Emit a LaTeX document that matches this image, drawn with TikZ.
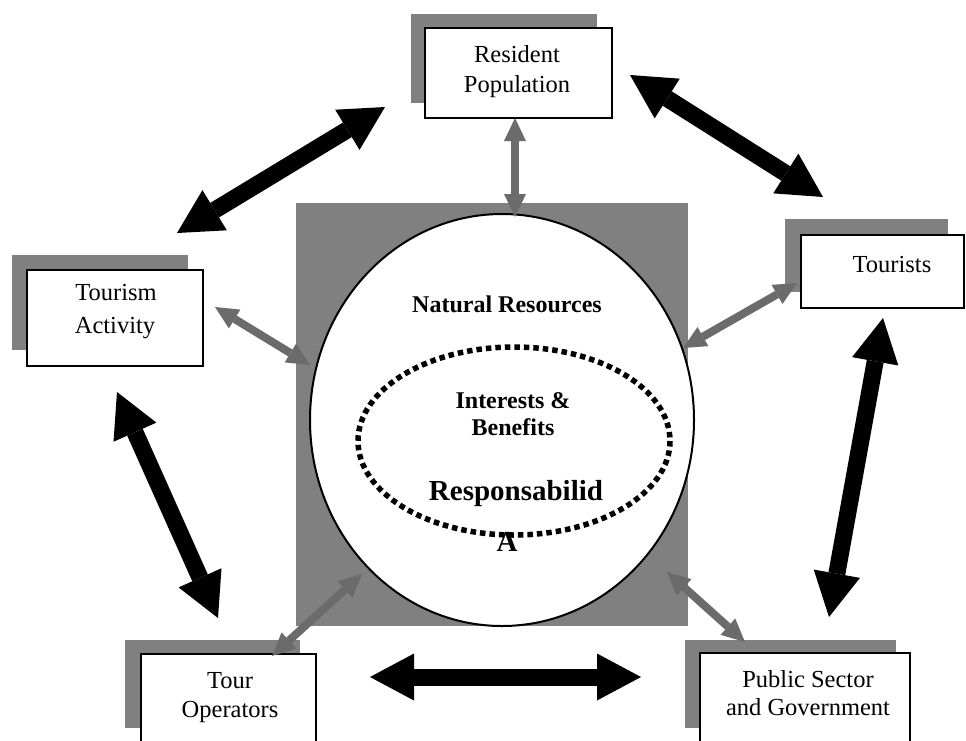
\documentclass[tikz,border=0pt]{standalone}
\usepackage{fontspec}
\setmainfont{Liberation Serif}
\usetikzlibrary{arrows.meta}
\definecolor{shade}{HTML}{808080}
\definecolor{agray}{HTML}{6B6B6B}
\begin{document}
\begin{tikzpicture}[x=1pt,y=-1pt,
  shadowbox/.style={rectangle, fill=shade, inner sep=0pt, outer sep=0pt},
  box/.style={rectangle, draw=black, line width=2.5pt, fill=white, inner sep=0pt, outer sep=0pt},
  lbl/.style={font=\fontsize{24.5}{28}\selectfont, anchor=base, inner sep=0pt},
  blbl/.style={font=\fontsize{24}{28}\selectfont\bfseries, anchor=base, inner sep=0pt},
  hlbl/.style={font=\fontsize{29}{34}\selectfont\bfseries, anchor=base, inner sep=0pt},
  bigarrow/.style={line width=17pt, draw=black,
    {Triangle[length=44pt,width=47pt,line width=0pt]}-{Triangle[length=44pt,width=47pt,line width=0pt]}},
  smallarrow/.style={line width=8pt, draw=agray,
    {Triangle[length=23pt,width=22pt,line width=0pt]}-{Triangle[length=23pt,width=22pt,line width=0pt]}}
]
\useasboundingbox (0,0) rectangle (966,740);

% shadows
\node[shadowbox, minimum width=186pt, minimum height=89pt] (resS) at (504,58.5) {};
\node[shadowbox, minimum width=176pt, minimum height=95pt] (actS) at (100,302.5) {};
\node[shadowbox, minimum width=163pt, minimum height=73pt] (touS) at (866.5,255.5) {};
\node[shadowbox, minimum width=175pt, minimum height=88pt] (opS) at (212.5,684) {};
\node[shadowbox, minimum width=211pt, minimum height=88pt] (pubS) at (790.5,684) {};

% central square, circle, ellipse
\node[shadowbox, minimum width=392pt, minimum height=423pt] (sq) at (492,414.5) {};
\draw[line width=2pt, fill=white] (502,420) ellipse [x radius=192, y radius=206];
\coordinate (nat) at (502,420);

\node[hlbl] (resp2) at (507,551) {A};
\draw[line width=5.5pt, dash pattern=on 5.5pt off 4pt] (514,441) ellipse [x radius=156, y radius=94];
\coordinate (inner) at (514,441);

\node[blbl] (natl) at (507,312) {Natural Resources};
\node[blbl] (int1) at (513,408) {Interests \&};
\node[blbl] (int2) at (513,435) {Benefits};
\node[hlbl] (resp1) at (516,500) {Responsabilid};

% boxes
\node[box, minimum width=187pt, minimum height=90pt] (res) at (518.5,73) {};
\node[box, minimum width=176pt, minimum height=96pt] (act) at (115,318) {};
\node[box, minimum width=163pt, minimum height=73pt] (tou) at (882.5,271.5) {};
\node[box, minimum width=175pt, minimum height=96pt] (op) at (228.5,702) {};
\node[box, minimum width=210pt, minimum height=97pt] (pub) at (805,701.5) {};

\node[lbl] (res1) at (517,62) {Resident};
\node[lbl] (res2) at (517,92) {Population};
\node[lbl] (act1) at (116,300) {Tourism};
\node[lbl] (act2) at (115,333) {Activity};
\node[lbl] (tou1) at (892,272) {Tourists};
\node[lbl] (op1) at (230,688) {Tour};
\node[lbl] (op2) at (230,717) {Operators};
\node[lbl] (pub1) at (808,687) {Public Sector};
\node[lbl] (pub2) at (808,715) {and Government};

% arrow end points
\coordinate (b1a) at (177,233); \coordinate (b1b) at (385,107);
\coordinate (b2a) at (630,75);  \coordinate (b2b) at (823,197);
\coordinate (b3a) at (117,392); \coordinate (b3b) at (218,618);
\coordinate (b4a) at (370,677); \coordinate (b4b) at (641,677);
\coordinate (b5a) at (883,318); \coordinate (b5b) at (829,617);
\coordinate (g1a) at (515,118); \coordinate (g1b) at (515,217);
\coordinate (g2a) at (215,307); \coordinate (g2b) at (310,365);
\coordinate (g3a) at (683,348); \coordinate (g3b) at (797,283);
\coordinate (g4a) at (272,656); \coordinate (g4b) at (362,574);
\coordinate (g5a) at (667,572); \coordinate (g5b) at (745,642);

\draw[bigarrow] (b1a) -- (b1b);
\draw[bigarrow] (b2a) -- (b2b);
\draw[bigarrow] (b3a) -- (b3b);
\draw[bigarrow] (b4a) -- (b4b);
\draw[bigarrow] (b5a) -- (b5b);
\draw[smallarrow] (g1a) -- (g1b);
\draw[smallarrow] (g2a) -- (g2b);
\draw[smallarrow] (g3a) -- (g3b);
\draw[smallarrow] (g4a) -- (g4b);
\draw[smallarrow] (g5a) -- (g5b);
\end{tikzpicture}
\end{document}
